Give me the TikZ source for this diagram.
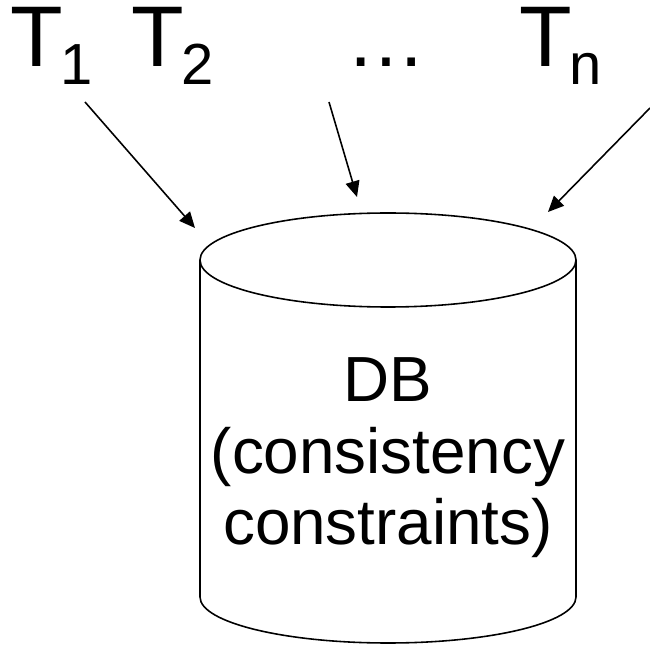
\documentclass[tikz,border=0pt]{standalone}
\usepackage{fontspec}
\setmainfont{Liberation Sans}
\usetikzlibrary{arrows.meta}
\newcommand{\tsub}[1]{T\kern-1.5pt\raisebox{-10.2pt}{\fontsize{33pt}{33pt}\selectfont #1}}
\begin{document}
\begin{tikzpicture}[x=0.02cm, y=-0.02cm, tlabel/.style={font=\fontsize{49pt}{54pt}\selectfont, inner sep=0pt, anchor=base west}, feed/.style={-{Triangle[length=9pt,width=8pt]}, line width=0.9pt}]
	\useasboundingbox (0,0) rectangle (650,645);
	\node[tlabel] (T1) at (10,67) {\tsub{1}};
	\node[tlabel] (T2) at (131,67) {\tsub{2}};
	\node[tlabel, font=\fontsize{45.4pt}{50pt}\selectfont] (dots) at (346,67) {…};
	\node[tlabel] (Tn) at (519,67) {\tsub{n}};
	% the database
	\draw[line width=0.9pt] (388,260) ellipse [x radius=188, y radius=47];
	\draw[line width=0.9pt] (200,260) -- (200,597) arc[start angle=180, end angle=0, x radius=188, y radius=46] -- (576,260);
	\node[font=\fontsize{36.3pt}{40.8pt}\selectfont, align=center, inner sep=0pt, anchor=base] (dbtext) at (388,545) {DB\\(consistency\\constraints)};
	% transactions feeding the database
	\coordinate (s1) at (85,102);
	\coordinate (e1) at (195,228);
	\coordinate (s2) at (329,102);
	\coordinate (e2) at (357,197);
	\coordinate (sn) at (650,108);
	\coordinate (en) at (548,212);
	\draw[feed] (s1) -- (e1);
	\draw[feed] (s2) -- (e2);
	\draw[feed] (sn) -- (en);
\end{tikzpicture}
\end{document}
